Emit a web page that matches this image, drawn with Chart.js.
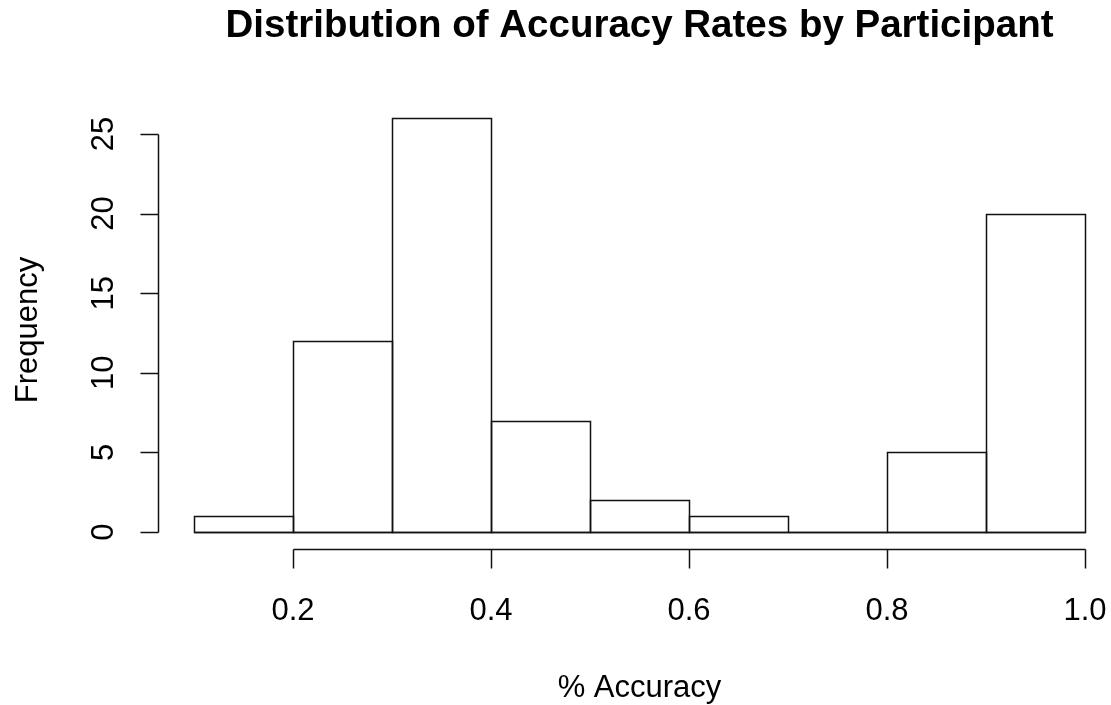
<!DOCTYPE html>
<html>
<head>
<meta charset="utf-8">
<script src="https://cdn.jsdelivr.net/npm/chart.js@4.4.0/dist/chart.umd.min.js"></script>
<style>
    html, body { margin: 0; padding: 0; background: #fff; }
    canvas { display: block; }
</style>
</head>
<body>
<canvas id="histChart" width="1111" height="705"></canvas>
<script>
// Histogram data (bin edges and counts)
const binEdges = [0.1, 0.2, 0.3, 0.4, 0.5, 0.6, 0.7, 0.8, 0.9, 1.0];
const binCounts = [1, 12, 26, 7, 2, 1, 0, 5, 20];
const xTicks = [0.2, 0.4, 0.6, 0.8, 1.0];
const yTicks = [0, 5, 10, 15, 20, 25];
const chartTitle = 'Distribution of Accuracy Rates by Participant';
const xTitle = '% Accuracy';
const yTitle = 'Frequency';

const FONT = '"Liberation Sans", Arial, sans-serif';
const LINE = '#111';

function px(v) {
    return Math.round(v) + 0.5;
}

// R-style outlines, detached axes and labels
const rStyle = {
    id: 'rStyle',
    afterDatasetsDraw(chart) {
        const ctx = chart.ctx;
        const xs = chart.scales.x;
        const ys = chart.scales.y;
        const meta = chart.getDatasetMeta(0);
        ctx.save();
        ctx.strokeStyle = LINE;
        ctx.lineWidth = 1.5;
        meta.data.forEach(bar => {
            const p = bar.getProps(['x', 'y', 'base', 'width'], true);
            const l = px(p.x - p.width / 2);
            const r = px(p.x + p.width / 2);
            const t = px(p.y);
            const b = px(p.base);
            ctx.beginPath();
            ctx.moveTo(l, b);
            ctx.lineTo(l, t);
            ctx.lineTo(r, t);
            ctx.lineTo(r, b);
            ctx.closePath();
            ctx.stroke();
        });
        // baseline under all bins (empty bins show as a flat line, like R)
        const by = px(ys.getPixelForValue(0));
        ctx.beginPath();
        ctx.moveTo(px(xs.getPixelForValue(binEdges[0])), by);
        ctx.lineTo(px(xs.getPixelForValue(binEdges[binEdges.length - 1])), by);
        ctx.stroke();
        ctx.restore();
    },
    afterDraw(chart) {
        const ctx = chart.ctx;
        const xs = chart.scales.x;
        const ys = chart.scales.y;
        const area = chart.chartArea;
        ctx.save();
        ctx.strokeStyle = LINE;
        ctx.fillStyle = '#000';
        ctx.lineWidth = 1.5;

        // y axis
        const ax = px(area.left);
        const y0 = px(ys.getPixelForValue(yTicks[0]));
        const y1 = px(ys.getPixelForValue(yTicks[yTicks.length - 1]));
        ctx.beginPath();
        ctx.moveTo(ax, y0);
        ctx.lineTo(ax, y1);
        yTicks.forEach(v => {
            const yy = px(ys.getPixelForValue(v));
            ctx.moveTo(ax, yy);
            ctx.lineTo(ax - 18, yy);
        });
        ctx.stroke();

        // x axis
        const ay = px(area.bottom);
        const x0 = px(xs.getPixelForValue(xTicks[0]));
        const x1 = px(xs.getPixelForValue(xTicks[xTicks.length - 1]));
        ctx.beginPath();
        ctx.moveTo(x0, ay);
        ctx.lineTo(x1, ay);
        xTicks.forEach(v => {
            const xx = px(xs.getPixelForValue(v));
            ctx.moveTo(xx, ay);
            ctx.lineTo(xx, ay + 19);
        });
        ctx.stroke();

        // tick labels
        ctx.font = '31px ' + FONT;
        ctx.textAlign = 'center';
        ctx.textBaseline = 'alphabetic';
        xTicks.forEach(v => {
            ctx.fillText(v.toFixed(1), xs.getPixelForValue(v), 620);
        });
        yTicks.forEach(v => {
            ctx.save();
            ctx.translate(113, ys.getPixelForValue(v));
            ctx.rotate(-Math.PI / 2);
            ctx.fillText(String(v), 0, 0);
            ctx.restore();
        });

        // axis titles
        const midX = (area.left + xs.getPixelForValue(1.036)) / 2;
        ctx.fillText(xTitle, midX, 697);
        ctx.save();
        ctx.translate(37, (area.top + area.bottom) / 2 + 5);
        ctx.rotate(-Math.PI / 2);
        ctx.fillText(yTitle, 0, 0);
        ctx.restore();

        // main title
        ctx.font = 'bold 38.5px ' + FONT;
        ctx.fillText(chartTitle, midX, 37);
        ctx.restore();
    }
};

document.addEventListener('DOMContentLoaded', function() {
    const barData = binCounts.map((c, i) => ({
        x: (binEdges[i] + binEdges[i + 1]) / 2,
        y: c
    }));

    const ctx = document.getElementById('histChart').getContext('2d');
    new Chart(ctx, {
        type: 'bar',
        data: {
            datasets: [{
                label: 'Frequency',
                data: barData,
                backgroundColor: '#fff',
                borderWidth: 0,
                barPercentage: 1,
                categoryPercentage: 1
            }]
        },
        options: {
            responsive: false,
            animation: false,
            devicePixelRatio: 1,
            layout: {
                padding: { left: 158.4, right: 0, top: 101.5, bottom: 156.4 }
            },
            scales: {
                x: { type: 'linear', offset: false, min: 0.064, max: 1.0263, display: false },
                y: { min: -1.04, max: 27.04, display: false }
            },
            plugins: {
                legend: { display: false },
                tooltip: { enabled: false },
                title: { display: false }
            }
        },
        plugins: [rStyle]
    });
});
</script>
</body>
</html>
